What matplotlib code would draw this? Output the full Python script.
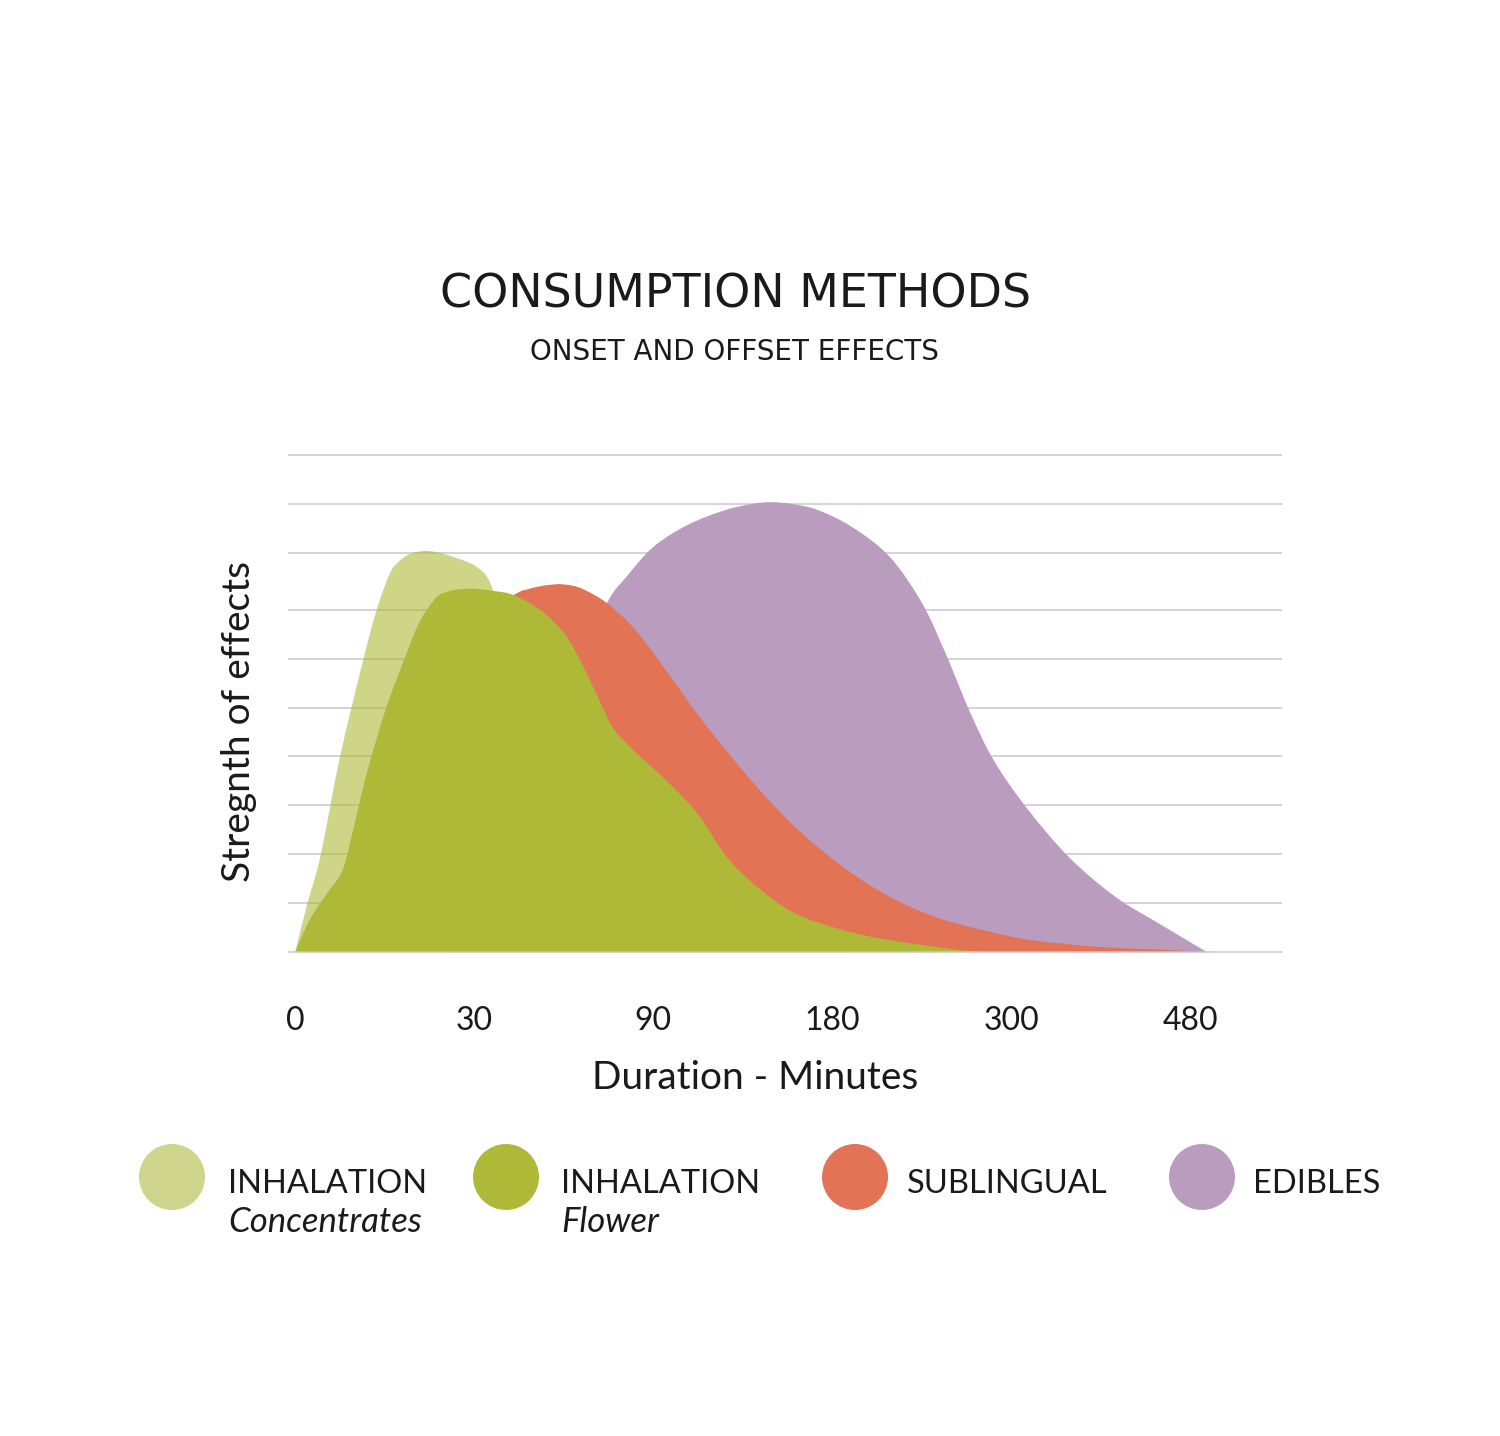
import matplotlib
matplotlib.use('Agg')
import numpy as np
import matplotlib.pyplot as plt
from matplotlib.patches import Ellipse, PathPatch
from matplotlib.path import Path

# x is tick position (0..5), y is strength (baseline 0, top grid 10)
tick_labels = ['0', '30', '90', '180', '300', '480']
grid_levels = [0, 0.99, 1.97, 2.96, 3.94, 4.91, 5.9, 6.88, 8.03, 9.01, 10.0]

conc_x = [0.0, 0.07, 0.14, 0.25, 0.38, 0.46, 0.53, 0.58, 0.63, 0.68, 0.74, 0.81, 0.88, 0.96, 1.02, 1.09, 1.20, 1.48, 1.98, 2.54, 3.10]
conc_y = [0.0, 1.0, 1.91, 3.92, 5.88, 6.94, 7.63, 7.86, 7.99, 8.05, 8.07, 8.03, 7.95, 7.85, 7.73, 7.42, 6.28, 3.86, 1.65, 0.44, 0.0]

flower_x = [0.0, 0.08, 0.18, 0.26, 0.31, 0.40, 0.51, 0.63, 0.70, 0.79, 0.86, 0.92, 0.98, 1.03, 1.12, 1.22, 1.37, 1.50, 1.59, 1.69, 1.77, 1.85, 1.93, 2.11, 2.26, 2.41, 2.58, 2.79, 3.06, 3.32, 3.71, 3.88]
flower_y = [0.0, 0.64, 1.19, 1.61, 2.25, 3.60, 4.93, 6.08, 6.68, 7.14, 7.26, 7.30, 7.31, 7.30, 7.26, 7.18, 6.88, 6.42, 5.88, 5.13, 4.53, 4.20, 3.92, 3.32, 2.72, 1.91, 1.31, 0.78, 0.44, 0.24, 0.04, 0.0]

subl_x = [0.20, 0.59, 0.92, 1.22, 1.30, 1.37, 1.43, 1.48, 1.55, 1.62, 1.74, 1.90, 2.11, 2.27, 2.53, 2.79, 3.06, 3.32, 3.58, 3.84, 4.11, 4.50, 4.89, 5.11]
subl_y = [0.0, 4.06, 6.48, 7.18, 7.30, 7.36, 7.39, 7.40, 7.37, 7.28, 7.02, 6.48, 5.47, 4.67, 3.52, 2.52, 1.71, 1.11, 0.70, 0.44, 0.24, 0.10, 0.04, 0.0]

edib_x = [0.86, 1.26, 1.53, 1.74, 1.85, 2.00, 2.19, 2.40, 2.56, 2.66, 2.78, 2.92, 3.11, 3.32, 3.50, 3.63, 3.77, 3.90, 4.08, 4.32, 4.58, 4.82, 5.09]
edib_y = [0.0, 3.06, 5.47, 7.02, 7.55, 8.15, 8.59, 8.89, 9.02, 9.05, 9.01, 8.89, 8.55, 7.95, 7.02, 6.02, 4.81, 3.86, 2.92, 1.91, 1.11, 0.58, 0.0]

legend_main = ['INHALATION', 'INHALATION', 'SUBLINGUAL', 'EDIBLES']
legend_sub = ['Concentrates', 'Flower', '', '']
legend_colors = ['#cfd58c', '#afb938', '#e37355', '#ba9cbe']

green = '#afb938'
red = '#e37355'
purple = '#ba9cbe'
ink = '#1a1a1a'


def smooth_area(xs, ys):
    # closed area through the read points, drawn as bezier segments
    p = np.column_stack([xs, ys]).astype(float)
    n = len(p)
    verts = [p[0]]
    codes = [Path.MOVETO]
    for i in range(n - 1):
        p0 = p[max(i - 1, 0)]
        p3 = p[min(i + 2, n - 1)]
        c1 = p[i] + (p[i + 1] - p0) / 6
        c2 = p[i + 1] - (p3 - p[i]) / 6
        c1[1] = max(c1[1], 0)
        c2[1] = max(c2[1], 0)
        verts += [c1, c2, p[i + 1]]
        codes += [Path.CURVE4] * 3
    verts.append(p[0])
    codes.append(Path.CLOSEPOLY)
    return Path(verts, codes)


W, H = 1500, 1436
fig = plt.figure(figsize=(W / 100, H / 100), dpi=100)
fig.patch.set_facecolor('white')

ax = fig.add_axes([288 / W, 1 - 955 / H, (1282 - 288) / W, (955 - 452) / H])
ax.set_xlim(-0.04, 5.51)
ax.set_ylim(-0.06, 10.06)

for g in grid_levels:
    ax.axhline(g, color='#c8c8c8', lw=1.1, zorder=5 if g == 0 else 0)

ax.add_patch(PathPatch(smooth_area(edib_x, edib_y), facecolor=purple, lw=0, zorder=1))
ax.add_patch(PathPatch(smooth_area(subl_x, subl_y), facecolor=red, lw=0, zorder=2))
ax.add_patch(PathPatch(smooth_area(conc_x, conc_y), facecolor=green, alpha=0.6, lw=0, zorder=3))
ax.add_patch(PathPatch(smooth_area(flower_x, flower_y), facecolor=green, lw=0, zorder=4))

for s in ax.spines.values():
    s.set_visible(False)
ax.set_yticks([])
ax.set_xticks(range(len(tick_labels)))
ax.set_xticklabels(tick_labels, fontsize=23, family='Lato', color=ink)
ax.tick_params(axis='x', length=0, pad=37)

fig.text(735.5 / W, 1 - 308 / H, 'CONSUMPTION METHODS', ha='center', va='baseline',
         fontsize=33, family='DejaVu Sans', color=ink)
fig.text(734.5 / W, 1 - 360 / H, 'ONSET AND OFFSET EFFECTS', ha='center', va='baseline',
         fontsize=20, family='DejaVu Sans', color=ink)

fig.text(755.5 / W, 1 - 1089 / H, 'Duration - Minutes', ha='center', va='baseline',
         fontsize=28, family='Lato', color=ink)
fig.text(239 / W, 1 - 722 / H, 'Stregnth of effects', ha='center', va='center',
         rotation=90, fontsize=28, family='Lato', color=ink)

circle_x = [172, 506, 855, 1202]
text_x = [228, 561, 907, 1253]
for cx, tx, main, sub, col in zip(circle_x, text_x, legend_main, legend_sub, legend_colors):
    fig.add_artist(Ellipse((cx / W, 1 - 1177 / H), 66 / W, 66 / H,
                           transform=fig.transFigure, color=col, lw=0))
    fig.text(tx / W, 1 - 1193 / H, main, ha='left', va='baseline',
             fontsize=23.5, family='Lato', color=ink)
    if sub:
        fig.text(tx / W, 1 - 1232 / H, sub, ha='left', va='baseline',
                 fontsize=25, family='Lato', style='italic', color=ink)

fig.savefig('out.png', dpi=100, facecolor='white')
